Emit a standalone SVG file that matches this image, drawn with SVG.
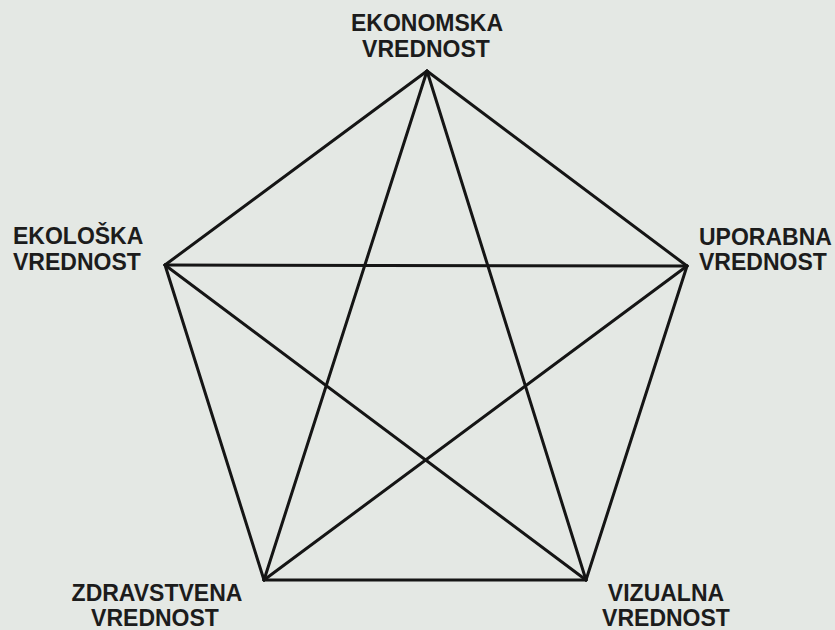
<svg xmlns="http://www.w3.org/2000/svg" width="835" height="630" viewBox="0 0 835 630">
<style>
.bg{fill:#e4e8e4}
.edge{stroke:#151515;stroke-width:3;stroke-linecap:round;fill:none}
.lbl{font-family:"Liberation Sans",Arial,sans-serif;font-weight:bold;font-size:23px;fill:#1c1c1c}
.mid{text-anchor:middle}
</style>
<rect class="bg" x="0" y="0" width="835" height="630"/>
<g id="connectors">
<line class="edge" x1="427" y1="71" x2="687" y2="266"/>
<line class="edge" x1="687" y1="266" x2="586" y2="580"/>
<line class="edge" x1="586" y1="580" x2="264" y2="580"/>
<line class="edge" x1="264" y1="580" x2="165" y2="265"/>
<line class="edge" x1="165" y1="265" x2="427" y2="71"/>
<line class="edge" x1="427" y1="71" x2="264" y2="580"/>
<line class="edge" x1="427" y1="71" x2="586" y2="580"/>
<line class="edge" x1="165" y1="265" x2="687" y2="266"/>
<line class="edge" x1="165" y1="265" x2="586" y2="580"/>
<line class="edge" x1="687" y1="266" x2="264" y2="580"/>
</g>
<g id="ekonomska">
<text class="lbl mid" x="427" y="31">EKONOMSKA</text>
<text class="lbl mid" x="426" y="57">VREDNOST</text>
</g>
<g id="ekoloska">
<text class="lbl" x="13" y="244">EKOLOŠKA</text>
<text class="lbl" x="13" y="270">VREDNOST</text>
</g>
<g id="uporabna">
<text class="lbl" x="699" y="245">UPORABNA</text>
<text class="lbl" x="699" y="270">VREDNOST</text>
</g>
<g id="zdravstvena">
<text class="lbl mid" x="157" y="601">ZDRAVSTVENA</text>
<text class="lbl mid" x="155" y="626">VREDNOST</text>
</g>
<g id="vizualna">
<text class="lbl mid" x="666" y="601">VIZUALNA</text>
<text class="lbl mid" x="666" y="626">VREDNOST</text>
</g>
</svg>
